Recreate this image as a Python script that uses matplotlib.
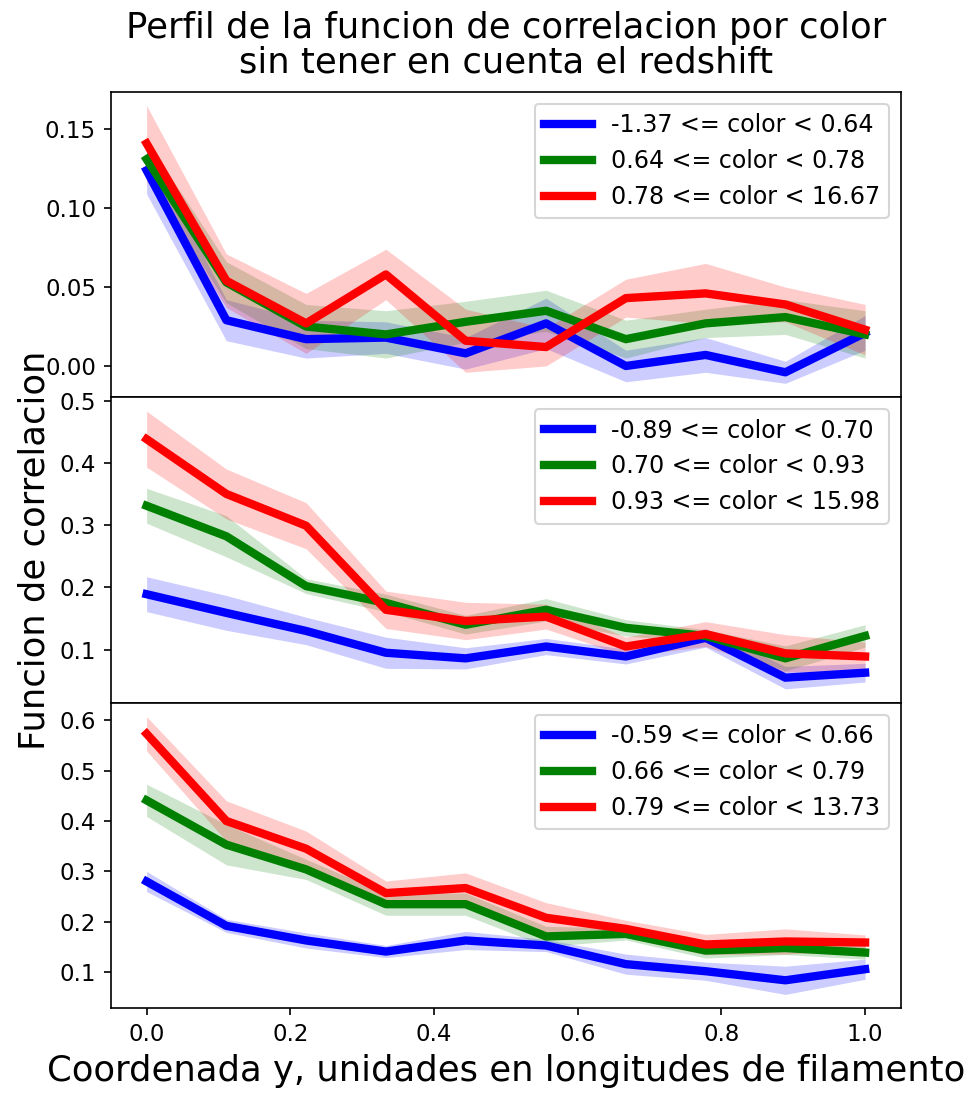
import matplotlib
matplotlib.use('Agg')
import matplotlib.pyplot as plt
from matplotlib.ticker import MultipleLocator

# coordenada y (longitudes de filamento)
x = [0.0, 0.111, 0.222, 0.333, 0.444, 0.556, 0.667, 0.778, 0.889, 1.0]

# panel 1
labels1 = ['-1.37 <= color < 0.64', '0.64 <= color < 0.78', '0.78 <= color < 16.67']
blue1 = [0.124, 0.029, 0.017, 0.018, 0.008, 0.027, 0.000, 0.007, -0.004, 0.021]
blue1_err = [0.015, 0.013, 0.012, 0.010, 0.010, 0.016, 0.010, 0.011, 0.007, 0.011]
green1 = [0.131, 0.053, 0.025, 0.020, 0.028, 0.035, 0.017, 0.027, 0.031, 0.020]
green1_err = [0.012, 0.013, 0.014, 0.015, 0.013, 0.013, 0.012, 0.009, 0.011, 0.015]
red1 = [0.141, 0.054, 0.027, 0.058, 0.016, 0.012, 0.043, 0.046, 0.039, 0.023]
red1_err = [0.024, 0.017, 0.019, 0.016, 0.020, 0.012, 0.012, 0.019, 0.011, 0.016]

# panel 2
labels2 = ['-0.89 <= color < 0.70', '0.70 <= color < 0.93', '0.93 <= color < 15.98']
blue2 = [0.189, 0.159, 0.130, 0.095, 0.086, 0.105, 0.089, 0.119, 0.055, 0.063]
blue2_err = [0.028, 0.028, 0.022, 0.025, 0.017, 0.013, 0.012, 0.015, 0.018, 0.015]
green2 = [0.331, 0.282, 0.202, 0.175, 0.140, 0.164, 0.135, 0.122, 0.086, 0.122]
green2_err = [0.028, 0.033, 0.012, 0.014, 0.015, 0.018, 0.013, 0.010, 0.020, 0.018]
red2 = [0.438, 0.350, 0.299, 0.164, 0.146, 0.153, 0.105, 0.125, 0.094, 0.089]
red2_err = [0.045, 0.040, 0.037, 0.030, 0.030, 0.020, 0.015, 0.020, 0.030, 0.023]

# panel 3
labels3 = ['-0.59 <= color < 0.66', '0.66 <= color < 0.79', '0.79 <= color < 13.73']
blue3 = [0.280, 0.192, 0.163, 0.141, 0.163, 0.153, 0.116, 0.102, 0.084, 0.106]
blue3_err = [0.020, 0.013, 0.015, 0.012, 0.018, 0.012, 0.020, 0.018, 0.028, 0.020]
green3 = [0.441, 0.353, 0.304, 0.235, 0.235, 0.171, 0.176, 0.143, 0.148, 0.139]
green3_err = [0.032, 0.040, 0.020, 0.022, 0.022, 0.020, 0.012, 0.015, 0.013, 0.013]
red3 = [0.573, 0.400, 0.345, 0.257, 0.267, 0.208, 0.186, 0.155, 0.161, 0.159]
red3_err = [0.034, 0.040, 0.035, 0.024, 0.030, 0.030, 0.017, 0.020, 0.025, 0.015]

panels = [
    (labels1, [(blue1, blue1_err), (green1, green1_err), (red1, red1_err)]),
    (labels2, [(blue2, blue2_err), (green2, green2_err), (red2, red2_err)]),
    (labels3, [(blue3, blue3_err), (green3, green3_err), (red3, red3_err)]),
]
colors = ['blue', 'green', 'red']

fig, axes = plt.subplots(3, 1, sharex=True, figsize=(970 / 150, 1093 / 150), dpi=150)
fig.subplots_adjust(left=0.1141, right=0.9289, top=0.9161, bottom=0.0775, hspace=0)

for ax, (labels, series) in zip(axes, panels):
    for (y, err), c, lab in zip(series, colors, labels):
        lo = [v - e for v, e in zip(y, err)]
        hi = [v + e for v, e in zip(y, err)]
        ax.fill_between(x, lo, hi, color=c, alpha=0.2, linewidth=0)
        ax.plot(x, y, color=c, lw=4, label=lab)
    ax.legend(loc='upper right', fontsize=11.4)
    ax.tick_params(labelsize=11)

axes[0].yaxis.set_major_locator(MultipleLocator(0.05))
axes[1].yaxis.set_major_locator(MultipleLocator(0.1))
axes[2].yaxis.set_major_locator(MultipleLocator(0.1))

axes[0].set_title('Perfil de la funcion de correlacion por color\nsin tener en cuenta el redshift',
                  fontsize=17, linespacing=1.05, pad=9)
axes[1].set_ylabel('Funcion de correlacion', fontsize=17)
axes[2].set_xlabel('Coordenada y, unidades en longitudes de filamento', fontsize=17)

plt.savefig('out.png', dpi=150)
